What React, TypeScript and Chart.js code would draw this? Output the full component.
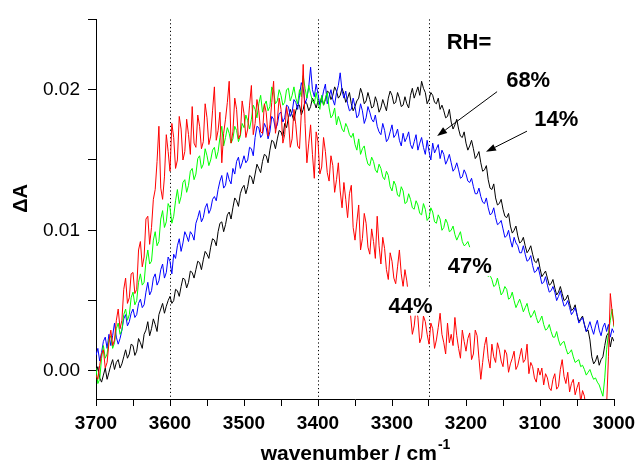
import React, { useEffect, useRef } from 'react';
import { Chart, registerables } from 'chart.js';

Chart.register(...registerables);

const FONT = '"Liberation Sans", Arial, Helvetica, sans-serif';

// wavenumber grid (cm-1), 3700 -> 3000, one row per 50 cm-1
const wavenumbers = [
  3700, 3697.5, 3695, 3692.5, 3690, 3687.5, 3685, 3682.5, 3680, 3677.5, 3675, 3672.5, 3670, 3667.5, 3665, 3662.5, 3660, 3657.5, 3655, 3652.5,
  3650, 3647.5, 3645, 3642.5, 3640, 3637.5, 3635, 3632.5, 3630, 3627.5, 3625, 3622.5, 3620, 3617.5, 3615, 3612.5, 3610, 3607.5, 3605, 3602.5,
  3600, 3597.5, 3595, 3592.5, 3590, 3587.5, 3585, 3582.5, 3580, 3577.5, 3575, 3572.5, 3570, 3567.5, 3565, 3562.5, 3560, 3557.5, 3555, 3552.5,
  3550, 3547.5, 3545, 3542.5, 3540, 3537.5, 3535, 3532.5, 3530, 3527.5, 3525, 3522.5, 3520, 3517.5, 3515, 3512.5, 3510, 3507.5, 3505, 3502.5,
  3500, 3497.5, 3495, 3492.5, 3490, 3487.5, 3485, 3482.5, 3480, 3477.5, 3475, 3472.5, 3470, 3467.5, 3465, 3462.5, 3460, 3457.5, 3455, 3452.5,
  3450, 3447.5, 3445, 3442.5, 3440, 3437.5, 3435, 3432.5, 3430, 3427.5, 3425, 3422.5, 3420, 3417.5, 3415, 3412.5, 3410, 3407.5, 3405, 3402.5,
  3400, 3397.5, 3395, 3392.5, 3390, 3387.5, 3385, 3382.5, 3380, 3377.5, 3375, 3372.5, 3370, 3367.5, 3365, 3362.5, 3360, 3357.5, 3355, 3352.5,
  3350, 3347.5, 3345, 3342.5, 3340, 3337.5, 3335, 3332.5, 3330, 3327.5, 3325, 3322.5, 3320, 3317.5, 3315, 3312.5, 3310, 3307.5, 3305, 3302.5,
  3300, 3297.5, 3295, 3292.5, 3290, 3287.5, 3285, 3282.5, 3280, 3277.5, 3275, 3272.5, 3270, 3267.5, 3265, 3262.5, 3260, 3257.5, 3255, 3252.5,
  3250, 3247.5, 3245, 3242.5, 3240, 3237.5, 3235, 3232.5, 3230, 3227.5, 3225, 3222.5, 3220, 3217.5, 3215, 3212.5, 3210, 3207.5, 3205, 3202.5,
  3200, 3197.5, 3195, 3192.5, 3190, 3187.5, 3185, 3182.5, 3180, 3177.5, 3175, 3172.5, 3170, 3167.5, 3165, 3162.5, 3160, 3157.5, 3155, 3152.5,
  3150, 3147.5, 3145, 3142.5, 3140, 3137.5, 3135, 3132.5, 3130, 3127.5, 3125, 3122.5, 3120, 3117.5, 3115, 3112.5, 3110, 3107.5, 3105, 3102.5,
  3100, 3097.5, 3095, 3092.5, 3090, 3087.5, 3085, 3082.5, 3080, 3077.5, 3075, 3072.5, 3070, 3067.5, 3065, 3062.5, 3060, 3057.5, 3055, 3052.5,
  3050, 3047.5, 3045, 3042.5, 3040, 3037.5, 3035, 3032.5, 3030, 3027.5, 3025, 3022.5, 3020, 3017.5, 3015, 3012.5, 3010, 3007.5, 3005, 3002.5,
  3000,
];

// RH = 44 % (red)
const rh44 = [
  -0.0003, -0.0006, 0.0004, 0.0012, 0.0015, 0.0002, 0.0006, 0.0020, 0.0029, 0.0018, 0.0022, 0.0036, 0.0044, 0.0030, 0.0036, 0.0058, 0.0066, 0.0048, 0.0052, 0.0069,
  0.0070, 0.0055, 0.0058, 0.0086, 0.0092, 0.0074, 0.0081, 0.0108, 0.0110, 0.0090, 0.0102, 0.0122, 0.0129, 0.0149, 0.0174, 0.0130, 0.0122, 0.0138, 0.0168, 0.0156,
  0.0142, 0.0176, 0.0166, 0.0144, 0.0150, 0.0181, 0.0172, 0.0150, 0.0156, 0.0179, 0.0168, 0.0154, 0.0188, 0.0162, 0.0159, 0.0182, 0.0174, 0.0158, 0.0163, 0.0190,
  0.0180, 0.0161, 0.0167, 0.0185, 0.0202, 0.0164, 0.0171, 0.0184, 0.0148, 0.0169, 0.0179, 0.0191, 0.0206, 0.0162, 0.0170, 0.0194, 0.0186, 0.0165, 0.0168, 0.0192,
  0.0183, 0.0166, 0.0172, 0.0189, 0.0203, 0.0168, 0.0176, 0.0193, 0.0185, 0.0170, 0.0169, 0.0190, 0.0184, 0.0167, 0.0175, 0.0191, 0.0206, 0.0169, 0.0178, 0.0194,
  0.0186, 0.0162, 0.0168, 0.0188, 0.0179, 0.0159, 0.0165, 0.0186, 0.0175, 0.0160, 0.0158, 0.0184, 0.0218, 0.0176, 0.0148, 0.0162, 0.0175, 0.0154, 0.0137, 0.0170,
  0.0163, 0.0140, 0.0145, 0.0166, 0.0156, 0.0141, 0.0135, 0.0153, 0.0146, 0.0127, 0.0136, 0.0148, 0.0128, 0.0116, 0.0134, 0.0122, 0.0109, 0.0126, 0.0132, 0.0102,
  0.0093, 0.0106, 0.0118, 0.0086, 0.0094, 0.0112, 0.0105, 0.0088, 0.0083, 0.0101, 0.0092, 0.0080, 0.0110, 0.0089, 0.0076, 0.0095, 0.0087, 0.0072, 0.0065, 0.0084,
  0.0078, 0.0066, 0.0062, 0.0074, 0.0086, 0.0069, 0.0060, 0.0072, 0.0064, 0.0052, 0.0040, 0.0026, 0.0032, 0.0045, 0.0038, 0.0020, 0.0024, 0.0039, 0.0035, 0.0026,
  0.0019, 0.0034, 0.0030, 0.0016, 0.0022, 0.0031, 0.0041, 0.0026, 0.0020, 0.0012, 0.0034, 0.0020, 0.0026, 0.0018, 0.0038, 0.0025, 0.0016, 0.0009, 0.0029, 0.0021,
  0.0014, 0.0023, 0.0027, 0.0008, 0.0012, 0.0029, 0.0025, 0.0009, -0.0006, 0.0006, 0.0018, 0.0024, 0.0009, 0.0002, 0.0019, 0.0010, 0.0006, 0.0020, 0.0015, 0.0007,
  0.0003, 0.0015, 0.0012, -0.0001, 0.0005, 0.0009, 0.0014, 0.0001, 0.0004, 0.0010, 0.0016, 0.0006, 0.0008, 0.0019, -0.0002, 0.0006, 0.0003, -0.0005, -0.0008, 0.0002,
  -0.0003, 0.0002, -0.0010, -0.0002, -0.0005, -0.0012, -0.0014, -0.0006, -0.0002, -0.0013, -0.0011, 0.0001, 0.0008, -0.0004, -0.0009, -0.0001, -0.0015, -0.0009, -0.0006, -0.0017,
  -0.0012, -0.0008, -0.0022, -0.0014, -0.0018, -0.0029, -0.0026, -0.0020, -0.0024, -0.0031, -0.0030, -0.0023, -0.0026, -0.0032, -0.0030, -0.0024, -0.0025, 0.0010, 0.0055, 0.0042,
  0.0032,
];

// RH = 47 % (green)
const rh47 = [
  0.0002, -0.0009, -0.0006, 0.0009, 0.0018, 0.0009, 0.0012, 0.0022, 0.0025, 0.0016, 0.0020, 0.0030, 0.0034, 0.0026, 0.0029, 0.0040, 0.0044, 0.0036, 0.0040, 0.0052,
  0.0056, 0.0047, 0.0050, 0.0063, 0.0069, 0.0061, 0.0063, 0.0078, 0.0086, 0.0076, 0.0078, 0.0093, 0.0099, 0.0089, 0.0092, 0.0108, 0.0114, 0.0102, 0.0106, 0.0119,
  0.0116, 0.0105, 0.0110, 0.0121, 0.0129, 0.0119, 0.0124, 0.0134, 0.0136, 0.0127, 0.0132, 0.0142, 0.0144, 0.0136, 0.0140, 0.0151, 0.0153, 0.0144, 0.0147, 0.0158,
  0.0153, 0.0146, 0.0150, 0.0157, 0.0159, 0.0151, 0.0156, 0.0166, 0.0174, 0.0160, 0.0166, 0.0173, 0.0169, 0.0162, 0.0165, 0.0174, 0.0171, 0.0163, 0.0167, 0.0176,
  0.0173, 0.0182, 0.0178, 0.0172, 0.0179, 0.0189, 0.0186, 0.0180, 0.0190, 0.0196, 0.0184, 0.0189, 0.0192, 0.0185, 0.0188, 0.0202, 0.0199, 0.0190, 0.0192, 0.0200,
  0.0196, 0.0189, 0.0191, 0.0200, 0.0201, 0.0192, 0.0196, 0.0202, 0.0194, 0.0190, 0.0200, 0.0195, 0.0210, 0.0201, 0.0194, 0.0203, 0.0197, 0.0192, 0.0190, 0.0198,
  0.0191, 0.0186, 0.0196, 0.0189, 0.0194, 0.0198, 0.0187, 0.0180, 0.0182, 0.0187, 0.0175, 0.0181, 0.0177, 0.0172, 0.0170, 0.0176, 0.0173, 0.0168, 0.0166, 0.0169,
  0.0161, 0.0157, 0.0165, 0.0154, 0.0158, 0.0160, 0.0152, 0.0147, 0.0146, 0.0152, 0.0149, 0.0143, 0.0141, 0.0147, 0.0144, 0.0138, 0.0136, 0.0142, 0.0139, 0.0131,
  0.0128, 0.0135, 0.0132, 0.0125, 0.0124, 0.0131, 0.0128, 0.0119, 0.0120, 0.0126, 0.0122, 0.0116, 0.0115, 0.0121, 0.0118, 0.0112, 0.0111, 0.0119, 0.0115, 0.0107,
  0.0109, 0.0116, 0.0113, 0.0106, 0.0105, 0.0111, 0.0108, 0.0100, 0.0102, 0.0108, 0.0105, 0.0099, 0.0100, 0.0103, 0.0097, 0.0093, 0.0096, 0.0099, 0.0092, 0.0089,
  0.0090, 0.0092, 0.0088, 0.0084, 0.0085, 0.0086, 0.0081, 0.0078, 0.0076, 0.0075, 0.0072, 0.0070, 0.0067, 0.0068, 0.0065, 0.0060, 0.0061, 0.0066, 0.0060, 0.0054,
  0.0056, 0.0060, 0.0058, 0.0051, 0.0052, 0.0056, 0.0050, 0.0045, 0.0048, 0.0051, 0.0047, 0.0042, 0.0045, 0.0048, 0.0042, 0.0038, 0.0040, 0.0043, 0.0038, 0.0034,
  0.0036, 0.0039, 0.0033, 0.0029, 0.0030, 0.0033, 0.0028, 0.0024, 0.0024, 0.0028, 0.0022, 0.0018, 0.0020, 0.0021, 0.0016, 0.0012, 0.0013, 0.0015, 0.0010, 0.0006,
  0.0007, 0.0008, 0.0003, 0.0004, 0.0001, -0.0003, -0.0001, 0.0001, -0.0003, -0.0006, -0.0005, -0.0008, -0.0010, -0.0014, -0.0018, -0.0005, 0.0015, 0.0027, 0.0036, 0.0044,
  0.0031,
];

// RH = 68 % (blue)
const rh68 = [
  0.0011, 0.0016, 0.0007, 0.0013, 0.0021, 0.0024, 0.0016, 0.0026, 0.0018, 0.0025, 0.0034, 0.0024, 0.0019, 0.0023, 0.0029, 0.0037, 0.0040, 0.0032, 0.0035, 0.0041,
  0.0044, 0.0038, 0.0040, 0.0048, 0.0051, 0.0045, 0.0047, 0.0056, 0.0063, 0.0054, 0.0057, 0.0066, 0.0069, 0.0061, 0.0064, 0.0072, 0.0076, 0.0066, 0.0070, 0.0081,
  0.0078, 0.0069, 0.0083, 0.0080, 0.0089, 0.0094, 0.0085, 0.0091, 0.0099, 0.0096, 0.0092, 0.0099, 0.0097, 0.0093, 0.0105, 0.0109, 0.0114, 0.0106, 0.0109, 0.0116,
  0.0119, 0.0112, 0.0115, 0.0122, 0.0124, 0.0121, 0.0129, 0.0135, 0.0139, 0.0130, 0.0132, 0.0141, 0.0136, 0.0133, 0.0144, 0.0140, 0.0149, 0.0152, 0.0144, 0.0148,
  0.0153, 0.0148, 0.0150, 0.0159, 0.0158, 0.0153, 0.0166, 0.0174, 0.0173, 0.0166, 0.0168, 0.0176, 0.0173, 0.0165, 0.0170, 0.0181, 0.0179, 0.0172, 0.0175, 0.0183,
  0.0184, 0.0177, 0.0180, 0.0189, 0.0188, 0.0181, 0.0184, 0.0193, 0.0191, 0.0186, 0.0196, 0.0205, 0.0201, 0.0190, 0.0194, 0.0202, 0.0216, 0.0200, 0.0195, 0.0204,
  0.0197, 0.0189, 0.0192, 0.0199, 0.0204, 0.0190, 0.0195, 0.0200, 0.0193, 0.0189, 0.0198, 0.0203, 0.0212, 0.0199, 0.0194, 0.0199, 0.0190, 0.0185, 0.0186, 0.0194,
  0.0188, 0.0180, 0.0182, 0.0190, 0.0185, 0.0176, 0.0180, 0.0188, 0.0184, 0.0179, 0.0177, 0.0182, 0.0174, 0.0170, 0.0168, 0.0176, 0.0171, 0.0163, 0.0165, 0.0170,
  0.0175, 0.0166, 0.0168, 0.0172, 0.0164, 0.0160, 0.0169, 0.0163, 0.0166, 0.0170, 0.0161, 0.0158, 0.0163, 0.0168, 0.0157, 0.0162, 0.0166, 0.0159, 0.0154, 0.0164,
  0.0156, 0.0150, 0.0162, 0.0155, 0.0158, 0.0161, 0.0151, 0.0157, 0.0154, 0.0147, 0.0150, 0.0154, 0.0148, 0.0142, 0.0144, 0.0148, 0.0143, 0.0137, 0.0138, 0.0143,
  0.0140, 0.0135, 0.0134, 0.0137, 0.0131, 0.0126, 0.0126, 0.0130, 0.0124, 0.0120, 0.0119, 0.0123, 0.0116, 0.0111, 0.0112, 0.0116, 0.0109, 0.0104, 0.0105, 0.0107,
  0.0101, 0.0095, 0.0096, 0.0100, 0.0093, 0.0088, 0.0095, 0.0091, 0.0089, 0.0084, 0.0084, 0.0089, 0.0083, 0.0078, 0.0079, 0.0082, 0.0075, 0.0070, 0.0071, 0.0074,
  0.0068, 0.0062, 0.0063, 0.0067, 0.0061, 0.0056, 0.0057, 0.0060, 0.0056, 0.0050, 0.0053, 0.0057, 0.0051, 0.0046, 0.0047, 0.0050, 0.0045, 0.0040, 0.0042, 0.0045,
  0.0040, 0.0034, 0.0036, 0.0038, 0.0033, 0.0028, 0.0031, 0.0035, 0.0030, 0.0026, 0.0032, 0.0036, 0.0029, 0.0025, 0.0031, 0.0034, 0.0028, 0.0033, 0.0024, 0.0030,
  0.0027,
];

// RH = 14 % (black)
const rh14 = [
  -0.0002, 0.0003, -0.0005, -0.0008, -0.0003, 0.0002, -0.0006, -0.0001, 0.0004, 0.0008, 0.0001, 0.0006, 0.0008, 0.0002, 0.0005, 0.0010, 0.0015, 0.0009, 0.0012, 0.0019,
  0.0018, 0.0011, 0.0014, 0.0023, 0.0020, 0.0016, 0.0026, 0.0029, 0.0035, 0.0025, 0.0030, 0.0037, 0.0033, 0.0028, 0.0040, 0.0044, 0.0048, 0.0041, 0.0046, 0.0050,
  0.0053, 0.0048, 0.0050, 0.0058, 0.0057, 0.0053, 0.0060, 0.0066, 0.0065, 0.0059, 0.0063, 0.0071, 0.0070, 0.0066, 0.0072, 0.0078, 0.0077, 0.0072, 0.0079, 0.0085,
  0.0083, 0.0080, 0.0088, 0.0094, 0.0093, 0.0089, 0.0099, 0.0105, 0.0106, 0.0099, 0.0104, 0.0111, 0.0113, 0.0108, 0.0116, 0.0123, 0.0121, 0.0117, 0.0126, 0.0130,
  0.0132, 0.0126, 0.0131, 0.0139, 0.0138, 0.0133, 0.0140, 0.0147, 0.0144, 0.0141, 0.0149, 0.0154, 0.0153, 0.0148, 0.0157, 0.0164, 0.0163, 0.0158, 0.0165, 0.0171,
  0.0170, 0.0166, 0.0176, 0.0173, 0.0180, 0.0186, 0.0182, 0.0178, 0.0185, 0.0189, 0.0189, 0.0182, 0.0186, 0.0192, 0.0190, 0.0185, 0.0188, 0.0194, 0.0191, 0.0187,
  0.0192, 0.0190, 0.0195, 0.0189, 0.0193, 0.0199, 0.0198, 0.0193, 0.0196, 0.0202, 0.0199, 0.0194, 0.0196, 0.0201, 0.0197, 0.0191, 0.0194, 0.0198, 0.0190, 0.0185,
  0.0188, 0.0192, 0.0194, 0.0201, 0.0197, 0.0190, 0.0192, 0.0198, 0.0193, 0.0187, 0.0188, 0.0195, 0.0191, 0.0184, 0.0187, 0.0193, 0.0189, 0.0185, 0.0194, 0.0199,
  0.0196, 0.0190, 0.0191, 0.0198, 0.0194, 0.0188, 0.0189, 0.0195, 0.0190, 0.0187, 0.0196, 0.0201, 0.0194, 0.0198, 0.0202, 0.0196, 0.0206, 0.0201, 0.0198, 0.0190,
  0.0193, 0.0198, 0.0196, 0.0191, 0.0190, 0.0194, 0.0186, 0.0189, 0.0185, 0.0180, 0.0181, 0.0186, 0.0177, 0.0172, 0.0175, 0.0179, 0.0172, 0.0167, 0.0166, 0.0170,
  0.0162, 0.0157, 0.0160, 0.0164, 0.0158, 0.0151, 0.0153, 0.0156, 0.0148, 0.0142, 0.0143, 0.0146, 0.0136, 0.0130, 0.0129, 0.0133, 0.0123, 0.0118, 0.0119, 0.0122,
  0.0115, 0.0110, 0.0109, 0.0112, 0.0103, 0.0098, 0.0100, 0.0103, 0.0096, 0.0091, 0.0092, 0.0095, 0.0089, 0.0084, 0.0086, 0.0089, 0.0083, 0.0078, 0.0077, 0.0080,
  0.0073, 0.0067, 0.0069, 0.0071, 0.0066, 0.0061, 0.0062, 0.0065, 0.0059, 0.0054, 0.0056, 0.0060, 0.0055, 0.0050, 0.0051, 0.0054, 0.0048, 0.0043, 0.0044, 0.0047,
  0.0040, 0.0035, 0.0037, 0.0039, 0.0033, 0.0028, 0.0029, 0.0022, 0.0010, 0.0005, 0.0007, 0.0011, 0.0004, 0.0008, 0.0010, 0.0018, 0.0025, 0.0027, 0.0017, 0.0024,
  0.0021,
];

const xTickValues = [3000, 3050, 3100, 3150, 3200, 3250, 3300, 3350, 3400, 3450, 3500, 3550, 3600, 3650, 3700];
const xLabeledTicks = [3000, 3100, 3200, 3300, 3400, 3500, 3600, 3700];
const yTickValues = [0, 0.005, 0.01, 0.015, 0.02, 0.025];
const yLabeledTicks = [0, 0.01, 0.02];

const guideLines = [3600, 3400, 3250];

// text annotations in data coordinates (centre x, baseline y)
const textLabels = [
  { text: 'RH=', x: 3196, y: 0.02288, box: false },
  { text: '68%', x: 3116, y: 0.02021, box: false },
  { text: '14%', x: 3078, y: 0.0174, box: false },
  { text: '47%', x: 3195, y: 0.00695, box: true },
  { text: '44%', x: 3275, y: 0.00414, box: true },
];

const arrowNotes = [
  { x1: 3158, y1: 0.01986, x2: 3239, y2: 0.0167 },
  { x1: 3117.6, y1: 0.01705, x2: 3173, y2: 0.01558 },
];

const overlayPlugin = {
  id: 'overlay',
  beforeDatasetsDraw(chart: any) {
    const { ctx, chartArea, scales } = chart;
    ctx.save();
    ctx.strokeStyle = '#000';
    ctx.lineWidth = 1;
    ctx.setLineDash([1.2, 2.6]);
    guideLines.forEach((w) => {
      const x = Math.round(scales.x.getPixelForValue(w)) + 0.5;
      ctx.beginPath();
      ctx.moveTo(x, chartArea.top);
      ctx.lineTo(x, chartArea.bottom);
      ctx.stroke();
    });
    ctx.restore();
  },
  afterDatasetsDraw(chart: any) {
    const { ctx, chartArea, scales } = chart;
    ctx.save();
    ctx.font = `bold 22px ${FONT}`;
    ctx.textAlign = 'center';
    ctx.textBaseline = 'alphabetic';
    textLabels.forEach((l) => {
      const x = scales.x.getPixelForValue(l.x);
      const y = scales.y.getPixelForValue(l.y);
      if (l.box) {
        const w = ctx.measureText(l.text).width;
        ctx.fillStyle = '#fff';
        ctx.fillRect(x - w / 2 - 1, y - 26, w + 2, 29);
      }
      ctx.fillStyle = '#000';
      ctx.fillText(l.text, x, y);
    });

    // arrows
    ctx.strokeStyle = '#000';
    ctx.fillStyle = '#000';
    ctx.lineWidth = 1;
    arrowNotes.forEach((a) => {
      const x1 = scales.x.getPixelForValue(a.x1);
      const y1 = scales.y.getPixelForValue(a.y1);
      const x2 = scales.x.getPixelForValue(a.x2);
      const y2 = scales.y.getPixelForValue(a.y2);
      const ang = Math.atan2(y2 - y1, x2 - x1);
      const hl = 10;
      const hw = 3.5;
      const bx = x2 - hl * Math.cos(ang);
      const by = y2 - hl * Math.sin(ang);
      ctx.beginPath();
      ctx.moveTo(x1, y1);
      ctx.lineTo(bx, by);
      ctx.stroke();
      ctx.beginPath();
      ctx.moveTo(x2, y2);
      ctx.lineTo(bx + hw * Math.sin(ang), by - hw * Math.cos(ang));
      ctx.lineTo(bx - hw * Math.sin(ang), by + hw * Math.cos(ang));
      ctx.closePath();
      ctx.fill();
    });

    // y axis title
    ctx.save();
    ctx.translate(chartArea.left - 75, chartArea.top + 179);
    ctx.rotate(-Math.PI / 2);
    ctx.font = `bold 20px ${FONT}`;
    ctx.textAlign = 'center';
    ctx.textBaseline = 'middle';
    ctx.fillText('\u0394A', 0, 0);
    ctx.restore();

    // x axis title with superscript
    const main = 'wavenumber / cm';
    const sup = '-1';
    ctx.font = `bold 21px ${FONT}`;
    const w1 = ctx.measureText(main).width;
    ctx.font = `bold 14px ${FONT}`;
    const w2 = ctx.measureText(sup).width;
    const cx = (chartArea.left + chartArea.right) / 2;
    const start = cx - (w1 + w2) / 2;
    const base = chartArea.bottom + 61;
    ctx.textAlign = 'left';
    ctx.textBaseline = 'alphabetic';
    ctx.font = `bold 21px ${FONT}`;
    ctx.fillText(main, start, base);
    ctx.font = `bold 14px ${FONT}`;
    ctx.fillText(sup, start + w1 + 1, base - 11);
    ctx.restore();
  },
};

export default function App() {
  const ref = useRef<HTMLCanvasElement | null>(null);

  useEffect(() => {
    if (!ref.current) return;
    const mk = (vals: number[]) => wavenumbers.map((w, i) => ({ x: w, y: vals[i] }));
    const ds = (label: string, vals: number[], color: string) => ({
      label,
      data: mk(vals),
      borderColor: color,
      backgroundColor: color,
      borderWidth: 1,
      pointRadius: 0,
      tension: 0,
      fill: false,
    });
    const chart = new Chart(ref.current, {
      type: 'line',
      data: {
        datasets: [
          ds('44%', rh44, '#ff0000'),
          ds('47%', rh47, '#00ff00'),
          ds('68%', rh68, '#0000ff'),
          ds('14%', rh14, '#000000'),
        ],
      },
      options: {
        responsive: false,
        animation: false,
        layout: { padding: { top: 15, right: 21, left: 0, bottom: 0 } },
        plugins: { legend: { display: false }, tooltip: { enabled: false } },
        scales: {
          x: {
            type: 'linear',
            position: 'bottom',
            reverse: true,
            min: 3000,
            max: 3700,
            afterBuildTicks: (s: any) => {
              s.ticks = xTickValues.map((v) => ({ value: v }));
            },
            afterFit: (s: any) => {
              s.height = 63;
            },
            ticks: {
              autoSkip: false,
              maxRotation: 0,
              padding: 6,
              color: '#000',
              font: { family: FONT, size: 19, weight: 'bold' },
              callback: (v: any) => (xLabeledTicks.includes(Number(v)) ? String(v) : ''),
            },
            grid: { display: true, drawOnChartArea: false, drawTicks: true, tickLength: 7, color: '#000', lineWidth: 1 },
            border: { display: true, color: '#000', width: 1 },
          },
          y: {
            type: 'linear',
            min: -0.002,
            max: 0.025,
            afterBuildTicks: (s: any) => {
              s.ticks = yTickValues.map((v) => ({ value: v }));
            },
            afterFit: (s: any) => {
              s.width = 96;
            },
            ticks: {
              autoSkip: false,
              padding: 8,
              color: '#000',
              font: { family: FONT, size: 19 },
              callback: (v: any) => {
                const n = Number(v);
                return yLabeledTicks.some((t) => Math.abs(t - n) < 1e-9) ? n.toFixed(2) : '';
              },
            },
            grid: { display: true, drawOnChartArea: false, drawTicks: true, tickLength: 8, color: '#000', lineWidth: 1 },
            border: { display: true, color: '#000', width: 1 },
          },
        },
      },
      plugins: [overlayPlugin],
    });
    return () => chart.destroy();
  }, []);

  return (
    <div style={{ position: 'fixed', left: 0, top: 0, width: 635, height: 462, background: '#fff' }}>
      <canvas ref={ref} width={635} height={462} style={{ width: 635, height: 462, display: 'block' }} />
    </div>
  );
}
